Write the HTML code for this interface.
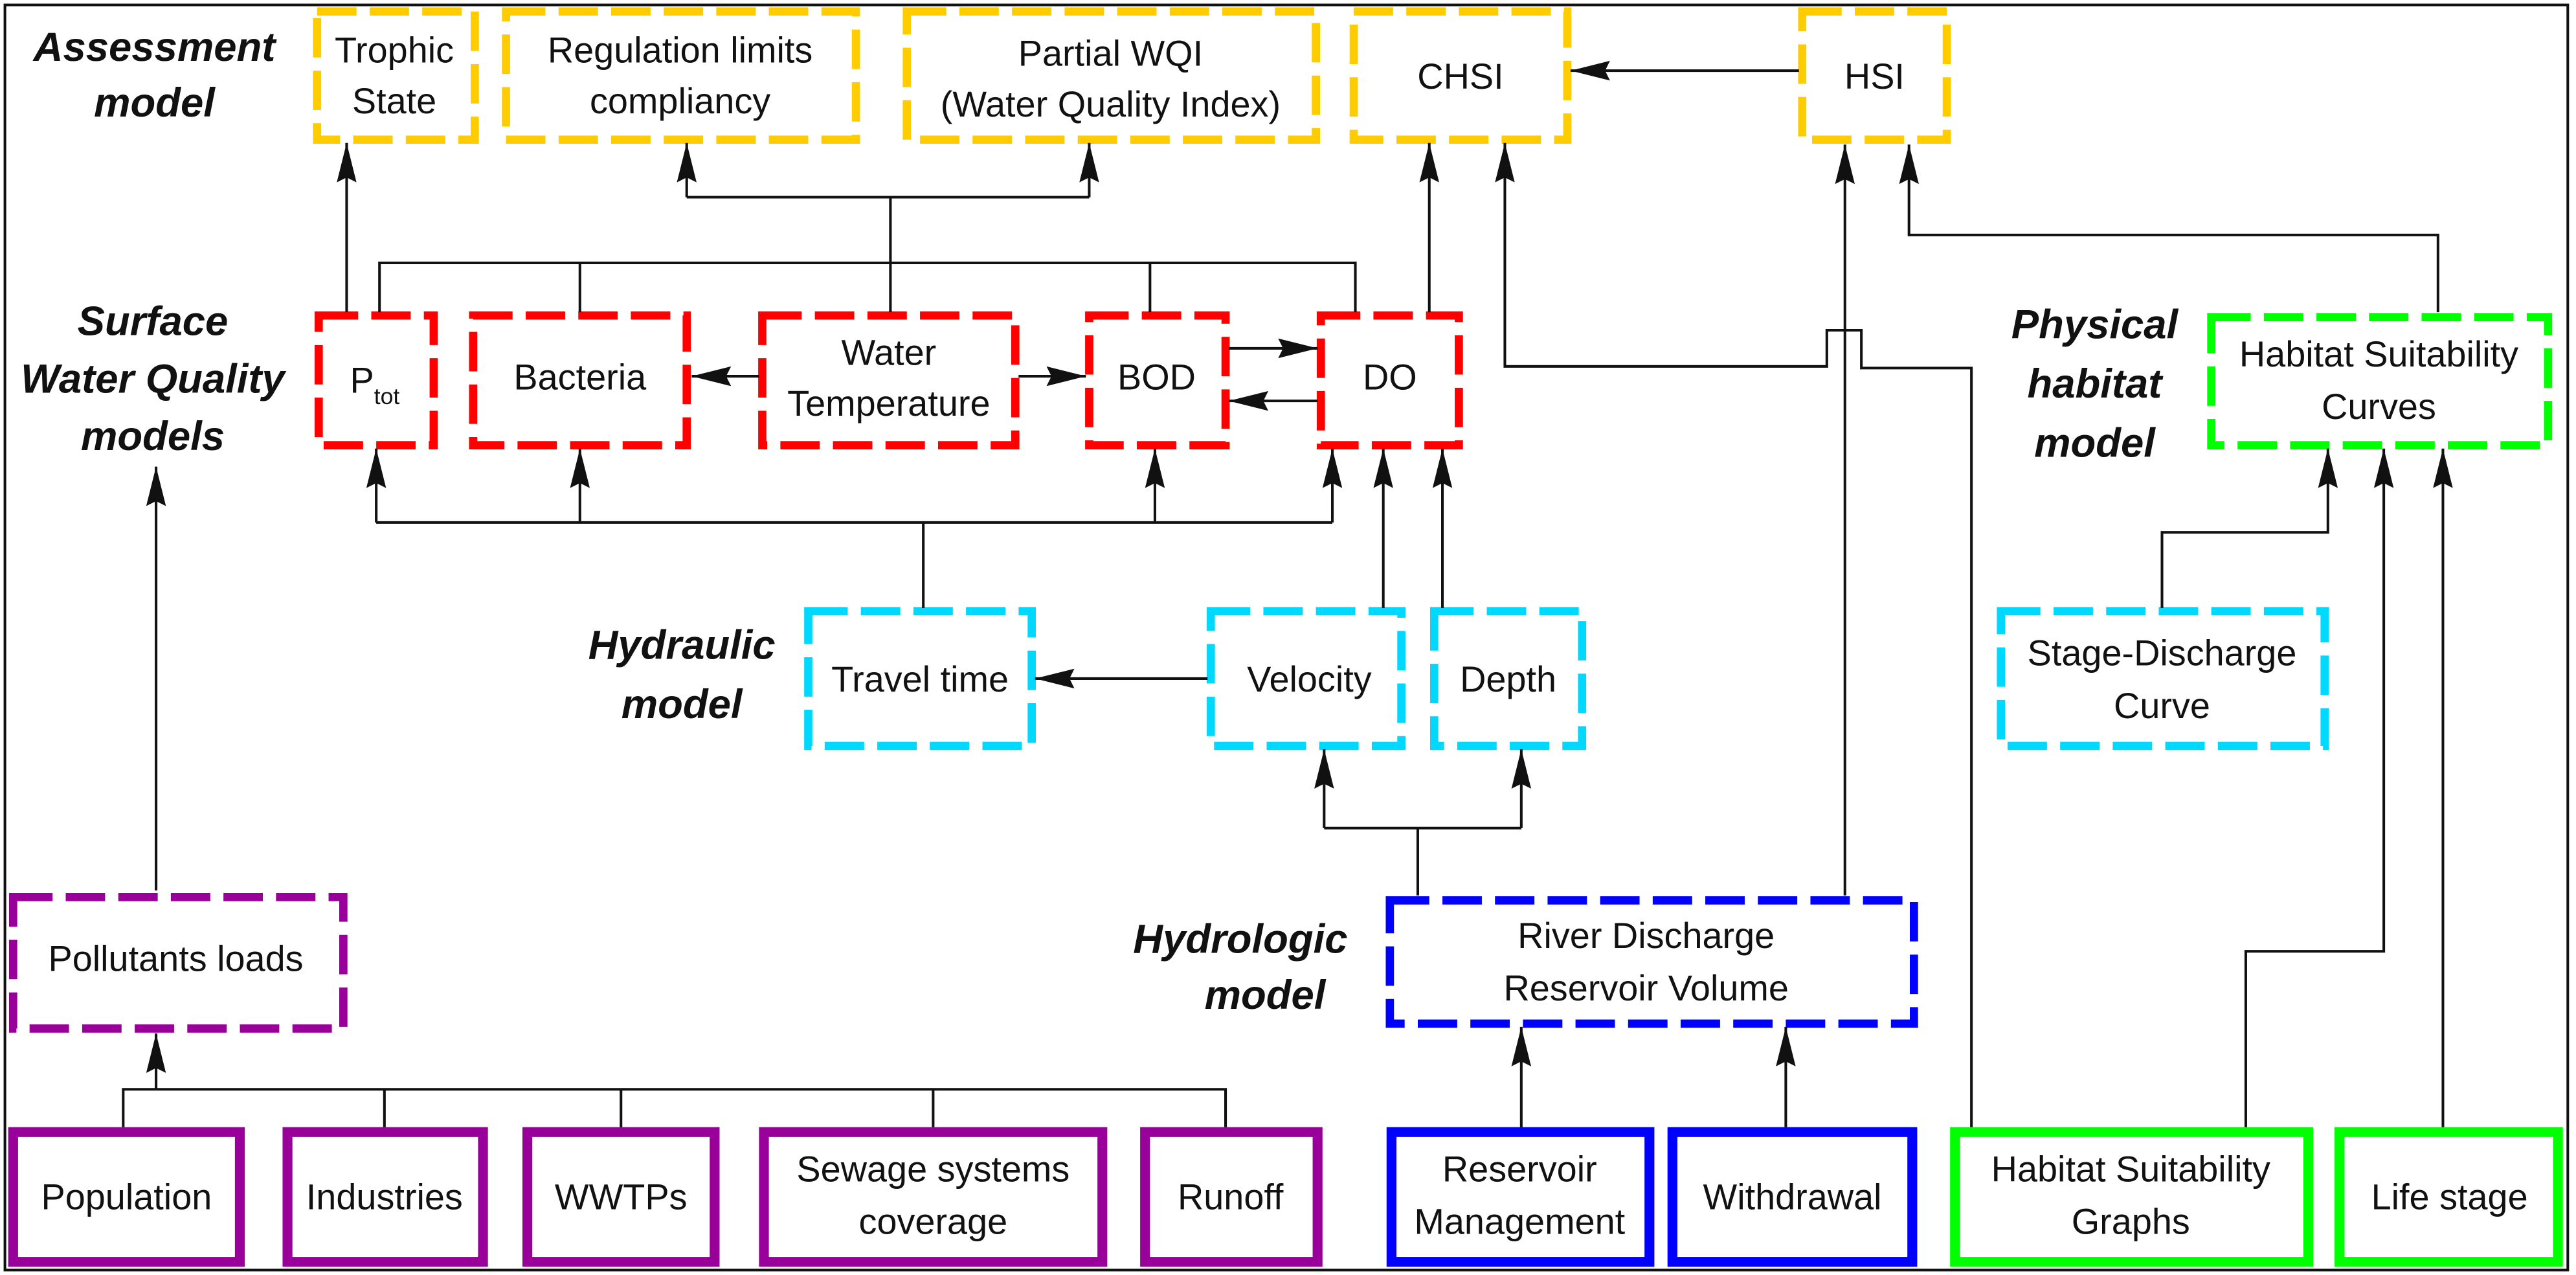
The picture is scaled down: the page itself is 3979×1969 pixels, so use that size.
<!DOCTYPE html>
<html><head><meta charset="utf-8"><style>
html,body{margin:0;padding:0;background:#fff;}
svg{display:block;}
text{font-family:"Liberation Sans",sans-serif;fill:#111;}
.l{font-size:22px;}
.b{font-size:25px;font-weight:bold;font-style:italic;}
.ln{stroke:#111;stroke-width:1.6;fill:none;}
.y{fill:none;stroke:#FFCC00;stroke-width:5;stroke-dasharray:24 8;}
.r{fill:none;stroke:#FF0000;stroke-width:5;stroke-dasharray:24 8;}
.c{fill:none;stroke:#00D8FF;stroke-width:5;stroke-dasharray:24 8;}
.bl{fill:none;stroke:#0000FF;stroke-width:5;stroke-dasharray:24 8;}
.pd{fill:none;stroke:#990099;stroke-width:5;stroke-dasharray:24 8;}
.ps{fill:none;stroke:#990099;stroke-width:6;}
.bs{fill:none;stroke:#0000FF;stroke-width:6;}
.gs{fill:none;stroke:#00FF00;stroke-width:6;}
.gd{fill:none;stroke:#00FF00;stroke-width:5;stroke-dasharray:24 8;}
</style></head><body>
<svg width="3979" height="1969" viewBox="0 0 1568 776" preserveAspectRatio="none" xmlns="http://www.w3.org/2000/svg">
<defs><marker id="a" markerUnits="userSpaceOnUse" markerWidth="24" markerHeight="12" refX="24" refY="6" orient="auto"><path d="M0,0 L24,6 L0,12 L3,6 z" fill="#111"/></marker></defs>
<rect x="3" y="3" width="1560" height="770" fill="none" stroke="#111" stroke-width="1.6"/>

<!-- labels -->
<text class="b" x="94" y="37" text-anchor="middle">Assessment</text>
<text class="b" x="94" y="71" text-anchor="middle">model</text>
<text class="b" x="93" y="204" text-anchor="middle">Surface</text>
<text class="b" x="93" y="239" text-anchor="middle">Water Quality</text>
<text class="b" x="93" y="274" text-anchor="middle">models</text>
<text class="b" x="415" y="401" text-anchor="middle">Hydraulic</text>
<text class="b" x="415" y="437" text-anchor="middle">model</text>
<text class="b" x="755" y="580" text-anchor="middle">Hydrologic</text>
<text class="b" x="770" y="614" text-anchor="middle">model</text>
<text class="b" x="1275" y="206" text-anchor="middle">Physical</text>
<text class="b" x="1275" y="242" text-anchor="middle">habitat</text>
<text class="b" x="1275" y="278" text-anchor="middle">model</text>

<!-- yellow -->
<rect class="y" x="193" y="7" width="96" height="78"/>
<text class="l" x="240" y="38" text-anchor="middle">Trophic</text><text class="l" x="240" y="69" text-anchor="middle">State</text>
<rect class="y" x="308" y="7" width="213" height="78"/>
<text class="l" x="414" y="38" text-anchor="middle">Regulation limits</text><text class="l" x="414" y="69" text-anchor="middle">compliancy</text>
<rect class="y" x="552" y="7" width="249" height="78"/>
<text class="l" x="676" y="40" text-anchor="middle">Partial WQI</text><text class="l" x="676" y="71" text-anchor="middle">(Water Quality Index)</text>
<rect class="y" x="824" y="7" width="130" height="78"/>
<text class="l" x="889" y="54" text-anchor="middle">CHSI</text>
<rect class="y" x="1097" y="7" width="88" height="78"/>
<text class="l" x="1141" y="54" text-anchor="middle">HSI</text>

<!-- red -->
<rect class="r" x="194" y="192" width="70" height="79"/>
<text class="l" x="213" y="239">P<tspan font-size="14" dy="7">tot</tspan></text>
<rect class="r" x="288" y="192" width="130" height="79"/>
<text class="l" x="353" y="237" text-anchor="middle">Bacteria</text>
<rect class="r" x="464" y="192" width="154" height="79"/>
<text class="l" x="541" y="222" text-anchor="middle">Water</text><text class="l" x="541" y="253" text-anchor="middle">Temperature</text>
<rect class="r" x="663" y="192" width="83" height="79"/>
<text class="l" x="704" y="237" text-anchor="middle">BOD</text>
<rect class="r" x="804" y="192" width="84" height="79"/>
<text class="l" x="846" y="237" text-anchor="middle">DO</text>

<!-- cyan -->
<rect class="c" x="492" y="372" width="136" height="82"/>
<text class="l" x="560" y="421" text-anchor="middle">Travel time</text>
<rect class="c" x="737" y="372" width="116" height="82"/>
<text class="l" x="797" y="421" text-anchor="middle">Velocity</text>
<rect class="c" x="873" y="372" width="90" height="82"/>
<text class="l" x="918" y="421" text-anchor="middle">Depth</text>
<rect class="c" x="1218" y="372" width="197" height="82"/>
<text class="l" x="1316" y="405" text-anchor="middle">Stage-Discharge</text><text class="l" x="1316" y="437" text-anchor="middle">Curve</text>

<!-- green dashed -->
<rect class="gd" x="1346" y="193" width="205" height="78"/>
<text class="l" x="1448" y="223" text-anchor="middle">Habitat Suitability</text><text class="l" x="1448" y="255" text-anchor="middle">Curves</text>

<!-- blue dashed -->
<rect class="bl" x="846" y="548" width="319" height="75"/>
<text class="l" x="1002" y="577" text-anchor="middle">River Discharge</text><text class="l" x="1002" y="609" text-anchor="middle">Reservoir Volume</text>

<!-- pollutants -->
<rect class="pd" x="8" y="546" width="201" height="80"/>
<text class="l" x="107" y="591" text-anchor="middle">Pollutants loads</text>

<!-- bottom solid -->
<rect class="ps" x="8" y="689" width="138" height="79"/><text class="l" x="77" y="736" text-anchor="middle">Population</text>
<rect class="ps" x="175" y="689" width="119" height="79"/><text class="l" x="234" y="736" text-anchor="middle">Industries</text>
<rect class="ps" x="321" y="689" width="114" height="79"/><text class="l" x="378" y="736" text-anchor="middle">WWTPs</text>
<rect class="ps" x="465" y="689" width="206" height="79"/><text class="l" x="568" y="719" text-anchor="middle">Sewage systems</text><text class="l" x="568" y="751" text-anchor="middle">coverage</text>
<rect class="ps" x="697" y="689" width="105" height="79"/><text class="l" x="749" y="736" text-anchor="middle">Runoff</text>
<rect class="bs" x="847" y="689" width="157" height="79"/><text class="l" x="925" y="719" text-anchor="middle">Reservoir</text><text class="l" x="925" y="751" text-anchor="middle">Management</text>
<rect class="bs" x="1018" y="689" width="146" height="79"/><text class="l" x="1091" y="736" text-anchor="middle">Withdrawal</text>
<rect class="gs" x="1190" y="689" width="215" height="79"/><text class="l" x="1297" y="719" text-anchor="middle">Habitat Suitability</text><text class="l" x="1297" y="751" text-anchor="middle">Graphs</text>
<rect class="gs" x="1424" y="689" width="133" height="79"/><text class="l" x="1491" y="736" text-anchor="middle">Life stage</text>

<!-- connectors -->
<line class="ln" x1="211" y1="190" x2="211" y2="87" marker-end="url(#a)"/>
<polyline class="ln" points="231,190 231,160 825,160 825,190"/>
<line class="ln" x1="353" y1="160" x2="353" y2="190"/>
<line class="ln" x1="700" y1="160" x2="700" y2="190"/>
<line class="ln" x1="542" y1="190" x2="542" y2="120"/>
<polyline class="ln" points="418,120 663,120"/>
<line class="ln" x1="418" y1="120" x2="418" y2="87" marker-end="url(#a)"/>
<line class="ln" x1="663" y1="120" x2="663" y2="87" marker-end="url(#a)"/>
<line class="ln" x1="462" y1="229" x2="421" y2="229" marker-end="url(#a)"/>
<line class="ln" x1="620" y1="229" x2="661" y2="229" marker-end="url(#a)"/>
<line class="ln" x1="748" y1="212" x2="802" y2="212" marker-end="url(#a)"/>
<line class="ln" x1="802" y1="244" x2="748" y2="244" marker-end="url(#a)"/>
<polyline class="ln" points="229,318 811,318"/>
<line class="ln" x1="229" y1="318" x2="229" y2="273" marker-end="url(#a)"/>
<line class="ln" x1="353" y1="318" x2="353" y2="273" marker-end="url(#a)"/>
<line class="ln" x1="703" y1="318" x2="703" y2="273" marker-end="url(#a)"/>
<line class="ln" x1="811" y1="318" x2="811" y2="273" marker-end="url(#a)"/>
<line class="ln" x1="562" y1="318" x2="562" y2="370"/>
<line class="ln" x1="842" y1="370" x2="842" y2="273" marker-end="url(#a)"/>
<line class="ln" x1="878" y1="370" x2="878" y2="273" marker-end="url(#a)"/>
<line class="ln" x1="870" y1="190" x2="870" y2="87" marker-end="url(#a)"/>
<polyline class="ln" points="1200,686 1200,224 1133,224 1133,201 1112,201 1112,223 916,223 916,87" marker-end="url(#a)"/>
<line class="ln" x1="1095" y1="43" x2="956" y2="43" marker-end="url(#a)"/>
<line class="ln" x1="1123" y1="545" x2="1123" y2="88" marker-end="url(#a)"/>
<polyline class="ln" points="1484,190 1484,143 1162,143 1162,88" marker-end="url(#a)"/>
<polyline class="ln" points="1316,370 1316,324 1417,324 1417,273" marker-end="url(#a)"/>
<polyline class="ln" points="1367,686 1367,579 1451,579 1451,273" marker-end="url(#a)"/>
<line class="ln" x1="1487" y1="686" x2="1487" y2="273" marker-end="url(#a)"/>
<line class="ln" x1="735" y1="413" x2="630" y2="413" marker-end="url(#a)"/>
<polyline class="ln" points="863,545 863,504"/>
<polyline class="ln" points="806,504 926,504"/>
<line class="ln" x1="806" y1="504" x2="806" y2="456" marker-end="url(#a)"/>
<line class="ln" x1="926" y1="504" x2="926" y2="456" marker-end="url(#a)"/>
<line class="ln" x1="926" y1="686" x2="926" y2="625" marker-end="url(#a)"/>
<line class="ln" x1="1087" y1="686" x2="1087" y2="625" marker-end="url(#a)"/>
<line class="ln" x1="95" y1="542" x2="95" y2="284" marker-end="url(#a)"/>
<polyline class="ln" points="75,686 75,663 746,663 746,686"/>
<line class="ln" x1="234" y1="663" x2="234" y2="686"/>
<line class="ln" x1="378" y1="663" x2="378" y2="686"/>
<line class="ln" x1="568" y1="663" x2="568" y2="686"/>
<line class="ln" x1="95" y1="663" x2="95" y2="629" marker-end="url(#a)"/>
</svg>
</body></html>
